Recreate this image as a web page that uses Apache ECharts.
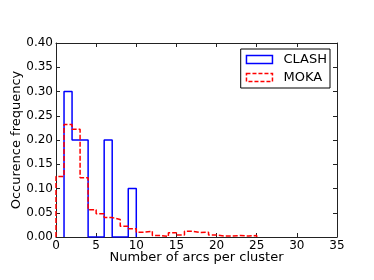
<!DOCTYPE html>
<html><head><meta charset="utf-8">
<script src="https://cdn.jsdelivr.net/npm/echarts@6/dist/echarts.min.js"></script>
<style>html,body{margin:0;padding:0;background:#fff;}#c{width:374px;height:280px;}</style>
</head><body><div id="c"></div>
<script>
// CLASH histogram: bin edges and occurrence frequency per bin
const clashEdges = [1, 2, 3, 4, 5, 6, 7, 8, 9, 10];
const clashValues = [0.30, 0.20, 0.20, 0.00, 0.00, 0.20, 0.00, 0.00, 0.10];
// MOKA histogram
const mokaEdges = [0,1,2,3,4,5,6,7,8,9,10,11,12,13,14,15,16,17,18,19,20,21,22,23,24,25];
const mokaValues = [0.125, 0.232, 0.222, 0.122, 0.056, 0.048, 0.040, 0.036, 0.022, 0.017,
                    0.010, 0.012, 0.003, 0.001, 0.009, 0.004, 0.012, 0.009, 0.010, 0.004,
                    0.002, 0.002, 0.003, 0.002, 0.003];
const seriesNames = ['CLASH', 'MOKA'];
const xTicks = {min: 0, max: 35, interval: 5};
const yTicks = {min: 0, max: 0.40, interval: 0.05};

function stepOutline(edges, vals) {
  const pts = [[edges[0], 0]];
  for (let i = 0; i < vals.length; i++) {
    pts.push([edges[i], vals[i]]);
    pts.push([edges[i + 1], vals[i]]);
  }
  pts.push([edges[edges.length - 1], 0]);
  return pts;
}

const font = 'DejaVu Sans';
const axisCol = '#222';
function xAx(pos, labels) {
  return {type: 'value', position: pos, min: xTicks.min, max: xTicks.max, interval: xTicks.interval,
    name: labels ? 'Number of arcs per cluster' : '', nameLocation: 'middle', nameGap: 14,
    nameMoveOverlap: false,
    nameTextStyle: {fontFamily: font, fontSize: 13, color: '#000'},
    axisLine: {show: true, onZero: false, lineStyle: {color: axisCol, width: 1}},
    axisTick: {show: true, inside: true, length: 4, lineStyle: {color: axisCol}},
    axisLabel: {show: labels, margin: 3, fontFamily: font, fontSize: 12, color: '#000'},
    splitLine: {show: false}};
}
function yAx(pos, labels) {
  return {type: 'value', position: pos, min: yTicks.min, max: yTicks.max, interval: yTicks.interval,
    name: labels ? 'Occurence frequency' : '', nameLocation: 'middle', nameGap: 33,
    nameMoveOverlap: false,
    nameTextStyle: {fontFamily: font, fontSize: 13, color: '#000'},
    axisLine: {show: true, onZero: false, lineStyle: {color: axisCol, width: 1}},
    axisTick: {show: true, inside: true, length: 4, lineStyle: {color: axisCol}},
    axisLabel: {show: labels, margin: 3, fontFamily: font, fontSize: 12, color: '#000',
      formatter: v => v.toFixed(2)},
    splitLine: {show: false}};
}

const chart = echarts.init(document.getElementById('c'), null, {renderer: 'canvas'});
chart.setOption({
  animation: false,
  backgroundColor: '#fff',
  grid: {left: 56, right: 37, top: 43, bottom: 43, containLabel: false, outerBoundsMode: 'none'},
  xAxis: [xAx('bottom', true), xAx('top', false)],
  yAxis: [yAx('left', true), yAx('right', false)],
  legend: {
    orient: 'vertical', right: 44, top: 49,
    borderColor: '#000', borderWidth: 1, borderRadius: 0,
    padding: [4, 3, 4, 5], itemGap: 5, itemWidth: 26, itemHeight: 8,
    textStyle: {fontFamily: font, fontSize: 13, color: '#000', padding: [0, 0, 0, 6]},
    data: [
      {name: seriesNames[0], icon: 'rect', itemStyle: {color: 'rgba(0,0,0,0)', borderColor: '#0000ff', borderWidth: 1.5}},
      {name: seriesNames[1], icon: 'rect', itemStyle: {color: 'rgba(0,0,0,0)', borderColor: '#ff0000', borderWidth: 1.5, borderType: [4, 2]}}
    ]
  },
  series: [
    {name: seriesNames[0], type: 'line', xAxisIndex: 0, yAxisIndex: 0, symbol: 'none',
      lineStyle: {color: '#0000ff', width: 1.5}, itemStyle: {color: '#0000ff'},
      data: stepOutline(clashEdges, clashValues)},
    {name: seriesNames[1], type: 'line', xAxisIndex: 0, yAxisIndex: 0, symbol: 'none',
      lineStyle: {color: '#ff0000', width: 1.5, type: [5, 2]}, itemStyle: {color: '#ff0000'},
      data: stepOutline(mokaEdges, mokaValues)}
  ]
});
</script></body></html>
